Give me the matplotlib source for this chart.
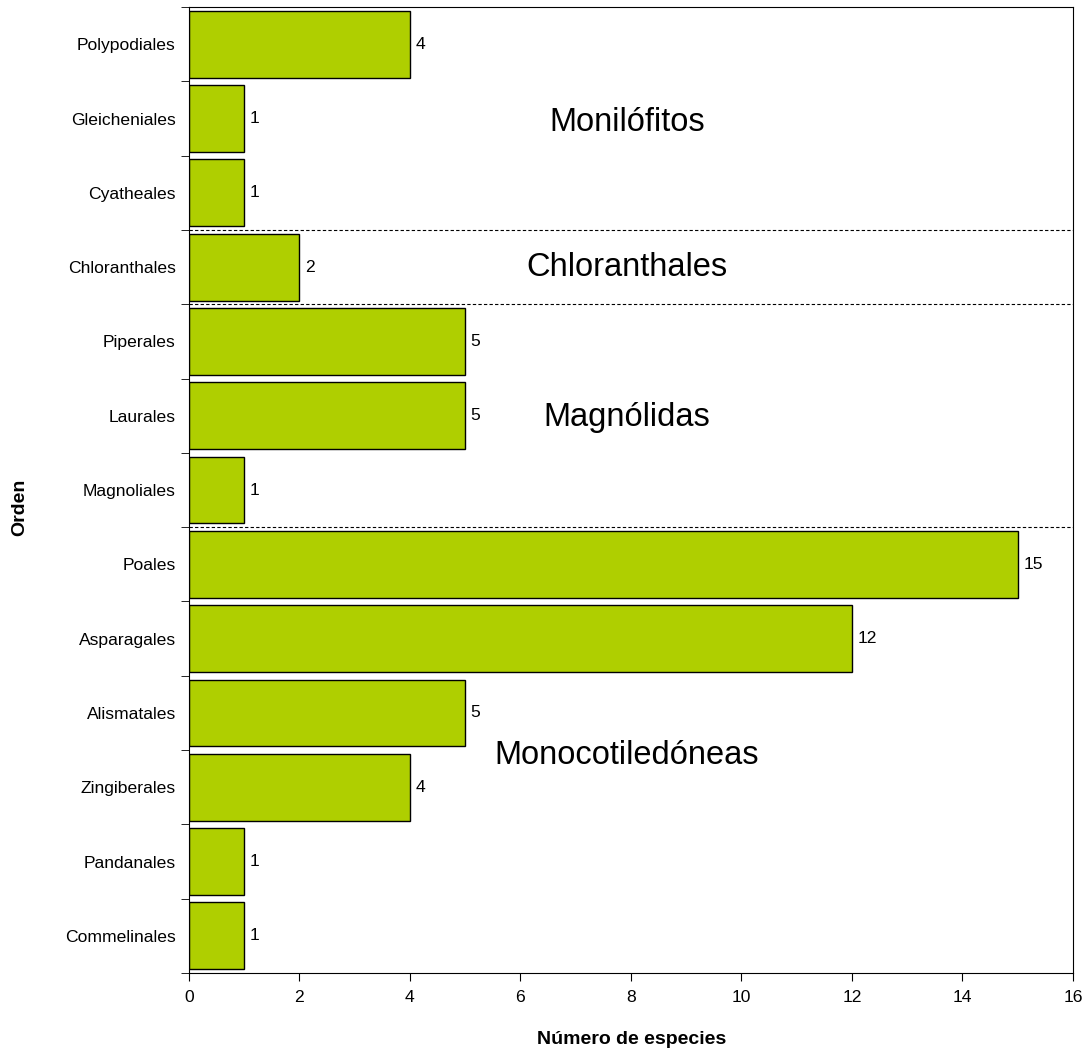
import matplotlib
matplotlib.use('Agg')
import matplotlib.pyplot as plt

plt.rcParams['font.family'] = ['Liberation Sans', 'DejaVu Sans']

# orders listed top to bottom
orders = ['Polypodiales', 'Gleicheniales', 'Cyatheales', 'Chloranthales',
          'Piperales', 'Laurales', 'Magnoliales', 'Poales', 'Asparagales',
          'Alismatales', 'Zingiberales', 'Pandanales', 'Commelinales']
species = [4, 1, 1, 2, 5, 5, 1, 15, 12, 5, 4, 1, 1]

groups = ['Monilófitos', 'Chloranthales', 'Magnólidas', 'Monocotiledóneas']
group_pos = [1.06, 3.01, 5.02, 9.57]  # y position in category units (from top)
group_breaks = [3, 4, 7]              # dashed line after this many orders

fig = plt.figure(figsize=(10.86, 10.51), dpi=100)
ax = fig.add_axes([0.174, 0.0742, 0.814, 0.9191])

n = len(orders)
ypos = list(range(n))
ax.barh(ypos, species, height=0.9, color='#afcf00', edgecolor='black', linewidth=1)

for y, v in zip(ypos, species):
    ax.text(v + 0.1, y, str(v), va='center', ha='left', fontsize=12.6)

for b in group_breaks:
    ax.axhline(b - 0.5, color='black', linestyle='--', linewidth=0.8, dashes=(3, 2))

for g, p in zip(groups, group_pos):
    ax.text(7.93, p, g, ha='center', va='center', fontsize=23.5)

ax.set_ylim(n - 0.5, -0.5)
ax.set_xlim(0, 16)
ax.set_xticks(range(0, 17, 2))

# category labels centred, ticks at the boundaries
ax.set_yticks(ypos)
ax.set_yticklabels(orders, fontsize=12.6)
ax.tick_params(axis='y', which='major', length=0, pad=9.5)
ax.set_yticks([y - 0.5 for y in range(n + 1)], minor=True)
ax.tick_params(axis='y', which='minor', length=5.5, direction='out')
ax.tick_params(axis='x', length=5.5, direction='out', labelsize=12.6, pad=7)

ax.set_xlabel('Número de especies', fontsize=14, fontweight='bold', va='center')
ax.xaxis.set_label_coords(0.501, -0.069)
ax.set_ylabel('Orden', fontsize=14, fontweight='bold', va='center')
ax.yaxis.set_label_coords(-0.191, 0.482)

fig.savefig('out.png', dpi=100)
